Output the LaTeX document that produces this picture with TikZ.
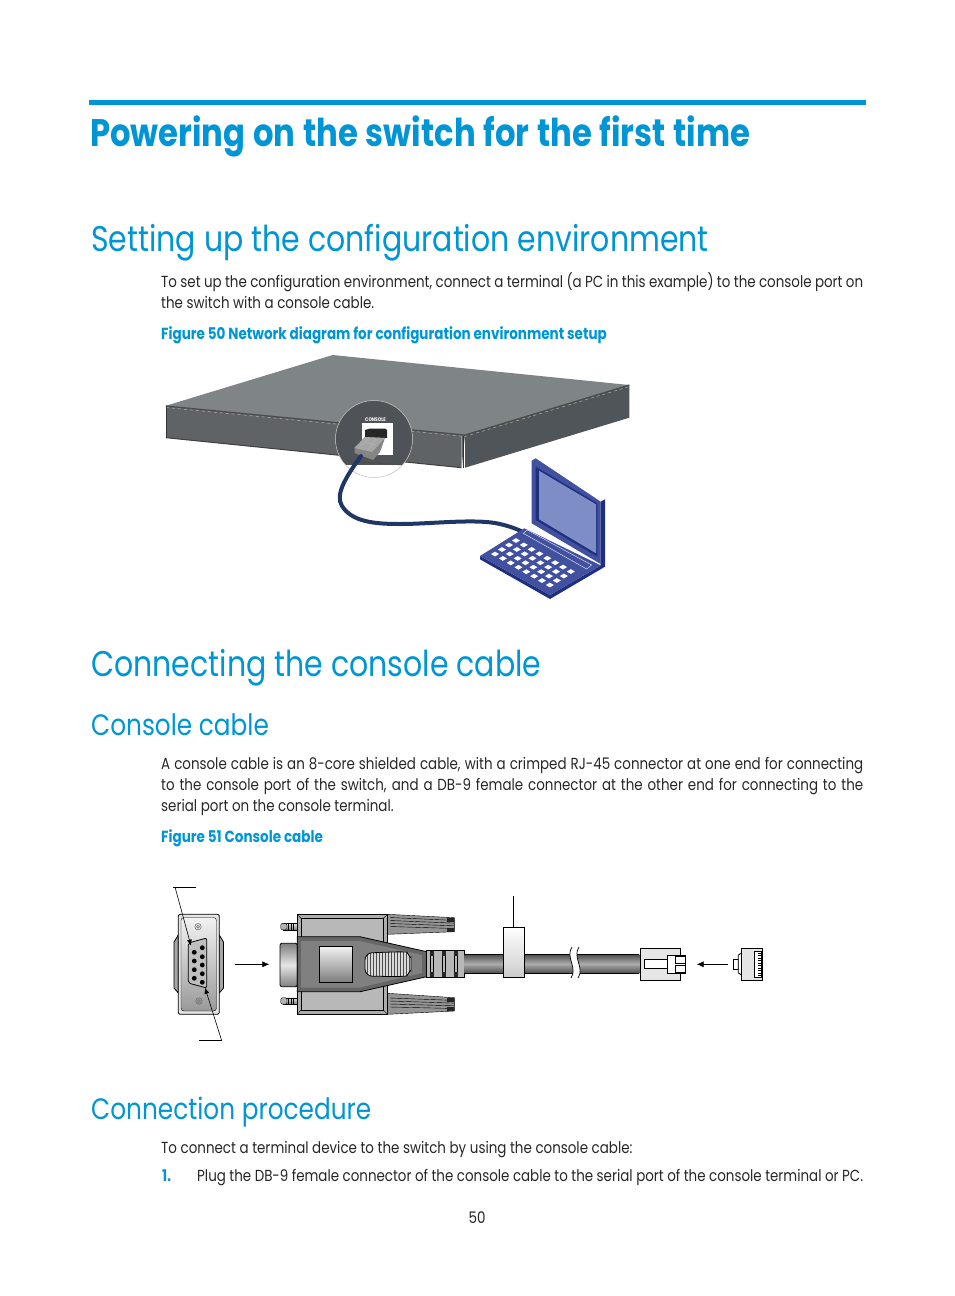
\documentclass[tikz,border=0pt]{standalone}
\usepackage{fontspec}
\setmainfont{Poppins}[FakeStretch=0.84]
\usepackage{tikz}
\usetikzlibrary{arrows.meta,calc,positioning}
\definecolor{hpblue}{HTML}{0096D6}
\definecolor{swtop}{HTML}{7F8487}
\definecolor{swfront}{HTML}{5F6366}
\definecolor{swside}{HTML}{505559}
\definecolor{lapblue}{HTML}{41509F}
\definecolor{lapdark}{HTML}{1F2F7F}
\definecolor{lapscreen}{HTML}{7F8DC6}
\definecolor{cableblue}{HTML}{1F3765}
\newcommand{\fullline}[2]{\hbox to #1pt{\spaceskip=0.2em plus 1em minus 0.1em #2}}
\tikzset{
    bodytext/.style={anchor=base west, inner sep=0pt, font=\fontsize{16}{19}\selectfont, text=black!85},
    headA/.style={anchor=base west, inner sep=0pt, font=\fontsize{38.4}{44}\bfseries\selectfont, text=hpblue},
    headB/.style={anchor=base west, inner sep=0pt, font=\fontsize{35.7}{42}\selectfont, text=hpblue},
    headC/.style={anchor=base west, inner sep=0pt, font=\fontsize{29.5}{36}\selectfont, text=hpblue},
    figcap/.style={anchor=base west, inner sep=0pt, font=\fontsize{16.1}{19}\bfseries\selectfont, text=hpblue},
    leader/.style={draw=black, line width=0.6pt},
    outline/.style={draw=black, line width=0.8pt},
    thinline/.style={draw=black, line width=0.4pt},
    cablegrey/.style={top color=black!70, bottom color=black!70, middle color=black!32}
}
\begin{document}
\begin{tikzpicture}[x=1pt, y=-1pt]
    \useasboundingbox (0,0) rectangle (954,1296);

    \fill[hpblue] (89,100) rectangle (866,105);
    \node[headA] (title) at (90,146) {\fullline{660}{Powering on the switch for the first time}};
    \node[headB] (setup) at (91,251) {Setting up the configuration environment};
    \node[bodytext] (setupa) at (161,287) {\fullline{702}{To set up the configuration environment, connect a terminal (a PC in this example) to the console port on}};
    \node[bodytext] (setupb) at (161,308) {the switch with a console cable.};
    \node[figcap] (figa) at (161,339) {Figure 50 Network diagram for configuration environment setup};
    \node[headB] (connecting) at (91,676) {Connecting the console cable};
    \node[headC] (cablehead) at (91,735) {Console cable};
    \node[bodytext] (cablea) at (161,769) {\fullline{702}{A console cable is an 8-core shielded cable, with a crimped RJ-45 connector at one end for connecting}};
    \node[bodytext] (cableb) at (161,790) {\fullline{702}{to the console port of the switch, and a DB-9 female connector at the other end for connecting to the}};
    \node[bodytext] (cablec) at (161,811) {serial port on the console terminal.};
    \node[figcap] (figb) at (161,842) {Figure 51 Console cable};
    \node[headC] (prochead) at (91,1119) {Connection procedure};
    \node[bodytext] (proca) at (161,1153) {To connect a terminal device to the switch by using the console cable:};
    \node[figcap] (stepnum) at (162,1181) {1.};
    \node[bodytext] (stepa) at (197,1181) {\fullline{666}{Plug the DB-9 female connector of the console cable to the serial port of the console terminal or PC.}};
    \node[bodytext, anchor=base] (pagenum) at (477,1223) {50};

    \fill[swtop] (166,405.7) -- (332.7,355) -- (629.3,385) -- (465,435) -- cycle;
    \fill[swfront] (166,405.7) -- (465,435) -- (461.7,467.7) -- (166,437.7) -- cycle;
    \fill[swside] (465,435) -- (629.3,385) -- (629.3,417.7) -- (465,467.7) -- cycle;
    \draw[black!70, line width=1.2pt] (166,406) -- (465,435) -- (629.3,385);
    \draw[white!70!black, line width=0.5pt, dashed] (166,407.5) -- (465,436.5) -- (629.3,386.5);
    \draw[black!75, line width=1pt] (166,437.7) -- (461.7,467.7);
    \draw[black!80, line width=1pt] (166.5,406) -- (166.5,437.7);
    \draw[black!80, line width=0.8pt] (463,436) -- (463,467.5);
    \draw[black!40, line width=0.6pt] (461,436) -- (461,467.5);

    \coordinate (lens) at (374,439);
    \begin{scope}
        \clip (lens) circle (38.5);
        \fill[white] (330,395) rectangle (420,485);
        \fill[swfront!110!white] (330,395) rectangle (420,465);
        \draw[black!70, line width=1pt] (330,460) -- (420,466);
    \end{scope}
    \draw[white!75!black, line width=0.5pt] (lens) circle (38.5);
    \fill[white] (361.7,422.7) rectangle (392.7,455);
    \fill[black!85] (365,430) -- (370,428.5) -- (385,428.5) -- (387,430) -- (387,438) -- (365,438) -- cycle;
    \node[inner sep=0pt, text=white, font=\fontsize{5.2}{6}\bfseries\selectfont] (consolelabel) at (375.5,419.5) {CONSOLE};
    \fill[black!48] (354.5,448) -- (365,437) -- (385,438) -- (380,452) -- (373,460) -- (354.5,453) -- cycle;
    \fill[black!35] (354.5,448) -- (365,437) -- (385,438) -- (372,452) -- cycle;
    \draw[white!70!black, line width=0.5pt] (360,446) -- (369,438) (368,450) -- (376,439) (364,442) -- (376,445);

    \draw[cableblue, line width=4pt, line cap=round] (361,456) .. controls (345,478) and (335,495) .. (342,506) .. controls (352,522) and (375,524) .. (400,524) .. controls (430,524) and (470,519) .. (495,523) .. controls (505,525) and (512,527) .. (521,531);

    \fill[lapdark] (480,556) -- (480,559.3) -- (550,599) -- (605,566.7) -- (605,563) -- (550,595) -- cycle;
    \fill[lapblue] (480,556) -- (524.3,528.3) -- (600,565) -- (605,563) -- (550,595) -- cycle;
    \fill[lapblue] (531.7,460.7) -- (535.7,458.3) -- (600.7,501.7) -- (600.7,564) -- (531.7,523.3) -- cycle;
    \fill[lapdark] (600.7,501.7) -- (605,499.3) -- (605,563) -- (600.7,566) -- cycle;
    \fill[lapdark] (535.7,466.7) -- (597.3,503.3) -- (597.3,556.7) -- (535.7,520) -- cycle;
    \fill[lapscreen] (539,470.7) -- (596,504.3) -- (596,553.3) -- (539,519.3) -- cycle;
    \draw[white!80!lapblue, line width=0.5pt] (523.3,533.3) -- (527.3,530) -- (591.7,565) -- (586.7,569) -- cycle;
    \foreach \row in {0,1,2,3} {
        \foreach \col in {0,...,7} {
            \fill[white] ($(495,554)+(\col*7.83,\col*4.43)+(\row*7,-\row*4.5)$) ++(-4,0) -- ++(4,-2.4) -- ++(4,2.4) -- ++(-4,2.4) -- cycle;
        }
    }

    \coordinate (clipa) at (175,887);
    \coordinate (clipatip) at (191,945.7);
    \coordinate (clipb) at (221.7,1040.7);
    \coordinate (clipbtip) at (205,987.7);
    \path[outline, fill=black!35] (178.3,935) -- (174,942) -- (174,988) -- (178.3,993) -- cycle;
    \path[outline, fill=black!35] (219.3,935) -- (223.5,942) -- (223.5,988) -- (219.3,993) -- cycle;
    \path[outline, fill=black!10, rounded corners=2pt] (178.3,914.3) rectangle (219.3,1014.3);
    \path[thinline, top color=black!5, bottom color=black!40, rounded corners=3pt] (181,917.5) rectangle (216.5,1011);
    \path[outline, fill=black!25, rounded corners=2pt] (188.3,943) -- (206.7,938) -- (206.7,988) -- (188.3,983) -- cycle;
    \foreach \py in {952.3,961,969.7,978.3} {
        \fill[black] (194.3,\py) circle (2.4);
    }
    \foreach \py in {947.7,956.7,965,973.7,982.3} {
        \fill[black] (202.3,\py) circle (2.4);
    }
    \foreach \px/\py in {198/926.7, 199/1001} {
        \draw[black!60, line width=0.5pt] (\px,\py) circle (3.2) (\px,\py) circle (1.5);
    }
    \draw[leader] (173.3,887) -- (195.7,887);
    \draw[leader, -{Latex[length=6pt,width=5pt]}] (clipa) -- (clipatip);
    \draw[leader] (199.3,1040.7) -- (clipb);
    \draw[leader, -{Latex[length=6pt,width=5pt]}] (clipb) -- (clipbtip);

    \coordinate (arrowa) at (235,964.3);
    \coordinate (arrowatip) at (269.3,964.3);
    \draw[leader, -{Latex[length=7pt,width=6pt]}] (arrowa) -- (arrowatip);

    \foreach \ty in {923.3,997.7} {
        \path[thinline, top color=black!10, bottom color=black!50] (283,\ty) rectangle (297.3,\ty+6.5);
        \path[thinline, fill=black!30, rounded corners=2pt] (280.7,\ty) rectangle (287,\ty+6.5);
        \foreach \tx in {288.5,291,293.5} {
            \draw[thinline] (\tx,\ty) -- (\tx,\ty+6.5);
        }
    }
    \path[outline, top color=black!50, bottom color=black!50, middle color=black!10, rounded corners=2pt] (280,943.3) rectangle (297.3,986.7);
    \path[thinline, fill=black!42] (387.7,914.3) -- (454.3,917.7) -- (454.3,931.7) -- (387.7,934.3) -- cycle;
    \path[thinline, fill=black!42] (387.7,993.3) -- (454.3,997.7) -- (454.3,1011) -- (387.7,1014.3) -- cycle;
    \foreach \fy in {3,6,9,12} {
        \draw[black, line width=0.4pt] (390,914.5+\fy) -- (454.3,917.7+\fy*0.9);
        \draw[black, line width=0.4pt] (390,995+\fy) -- (454.3,997.7+\fy*0.9);
    }
    \foreach \ny in {917.7,927.5,997.7,1007} {
        \fill[black!85] (447,\ny) rectangle (454.3,\ny+4);
    }
    \path[outline, fill=black!32] (297.3,914.3) rectangle (387.7,1014.3);
    \path[thinline, fill=black!28] (301,918.3) rectangle (383.3,1010);
    \draw[thinline] (297.3,914.3) -- (301,918.3) (387.7,914.3) -- (383.3,918.3) (297.3,1014.3) -- (301,1010) (387.7,1014.3) -- (383.3,1010);
    \path[outline, fill=black!60] (297.3,936.7) -- (360,936.7) -- (426.7,951.7) -- (426.7,976.7) -- (360,991.7) -- (297.3,991.7) -- cycle;
    \path[fill=black!50] (301,941) -- (360,941) -- (422,955) -- (422,973) -- (360,987.5) -- (301,987.5) -- cycle;
    \path[thinline, top color=black!5, bottom color=black!50] (319.3,946.3) rectangle (351.7,981.7);
    \begin{scope}
        \clip[rounded corners=7pt] (365,953) -- (400,951.7) .. controls (407,952) and (411,960) .. (411,964) .. controls (411,968) and (407,976) .. (400,976.7) -- (365,976) -- cycle;
        \fill[black!15] (365,950) rectangle (412,978);
        \foreach \gx in {367,370,...,409} {
            \draw[black!70, line width=0.5pt] (\gx,950) -- (\gx,978);
        }
    \end{scope}
    \path[outline, rounded corners=7pt] (365,953) -- (400,951.7) .. controls (407,952) and (411,960) .. (411,964) .. controls (411,968) and (407,976) .. (400,976.7) -- (365,976) -- cycle;
    \path[outline, fill=black!28] (426.7,950.5) rectangle (464,977);
    \foreach \sx in {430,442,454} {
        \fill[black!85] (\sx,950.5) rectangle (\sx+3.5,956);
        \fill[black!85] (\sx,972) rectangle (\sx+3.5,977);
        \draw[thinline] (\sx,956) -- (\sx,972) (\sx+3.5,956) -- (\sx+3.5,972);
    }

    \path[cablegrey] (464,954.3) rectangle (639.3,973.3);
    \draw[black, line width=0.8pt] (464,954.3) -- (639.3,954.3) (464,973.3) -- (639.3,973.3);
    \fill[white] (572,947) .. controls (565,957) and (578,968) .. (571,978) -- (578,978) .. controls (585,968) and (572,957) .. (579,947) -- cycle;
    \draw[black, line width=0.7pt] (572,947) .. controls (565,957) and (578,968) .. (571,978) (579,947) .. controls (572,957) and (585,968) .. (578,978);

    \path[outline, top color=white, bottom color=black!20] (503.3,927.3) rectangle (524.3,977.3);
    \coordinate (labeltop) at (513.3,896);
    \draw[leader] (labeltop) -- (513.3,927.3);

    \path[outline, fill=black!10] (640,948.3) rectangle (680.7,980.7);
    \path[outline, fill=white] (644,959.3) rectangle (667.3,968.3);
    \path[outline, fill=white] (667.3,955.3) rectangle (685.7,973.3);
    \path[outline, fill=white] (675.5,956) rectangle (685.7,963);
    \path[outline, fill=white] (675.5,965.7) rectangle (685.7,972.7);

    \coordinate (arrowb) at (728.3,964.3);
    \coordinate (arrowbtip) at (696.7,964.3);
    \draw[leader, -{Latex[length=7pt,width=6pt]}] (arrowb) -- (arrowbtip);

    \path[outline, fill=white] (733.3,959) rectangle (738.3,969);
    \path[outline, fill=white] (738.3,955) -- (741.7,953) -- (741.7,975) -- (738.3,973) -- cycle;
    \path[outline, fill=black!10] (741.7,948.3) rectangle (762.3,980.7);
    \path[outline, fill=white] (754,951.7) rectangle (761.5,977);
    \foreach \ky in {953,955.5,...,975.5} {
        \draw[black, line width=0.5pt] (758,\ky) -- (762,\ky);
    }
    \draw[black, line width=1.2pt] (762.3,948.3) -- (762.3,980.7);
\end{tikzpicture}
\end{document}
